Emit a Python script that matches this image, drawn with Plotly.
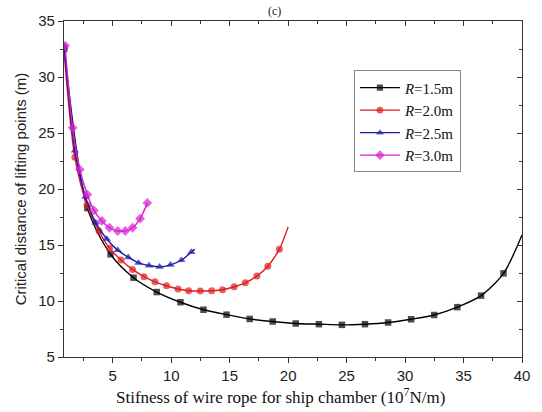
import plotly.graph_objects as go

# ---- data ----
black_x = [0.85, 2.83, 4.81, 6.78, 8.76, 10.79, 12.76, 14.73, 16.71, 18.68, 20.65,
           22.63, 24.60, 26.57, 28.55, 30.52, 32.49, 34.47, 36.5, 38.42, 40.0]
black_y = [32.5, 18.29, 14.17, 12.08, 10.8, 9.89, 9.22, 8.78, 8.40, 8.17, 7.99,
           7.93, 7.87, 7.93, 8.08, 8.37, 8.75, 9.45, 10.48, 12.47, 15.9]

red_x = [0.8, 1.76, 2.8, 3.82, 4.72, 5.71, 6.69, 7.68, 8.61, 9.6, 10.58, 11.49,
         12.48, 13.46, 14.39, 15.38, 16.34, 17.33, 18.26, 19.25, 20.0]
red_y = [32.7, 22.83, 18.58, 16.25, 14.72, 13.67, 12.82, 12.17, 11.71, 11.36, 11.07,
         10.92, 10.89, 10.92, 11.0, 11.27, 11.62, 12.23, 13.11, 14.63, 16.62]

blue_x = [0.85, 1.76, 2.67, 3.54, 4.49, 5.42, 6.33, 7.2, 8.1, 9.01, 9.94, 10.87, 11.72, 12.0]
blue_y = [32.7, 23.42, 19.3, 17.0, 15.54, 14.54, 13.9, 13.4, 13.17, 13.05, 13.23, 13.64, 14.37, 14.63]

mag_x = [0.92, 1.57, 2.18, 2.83, 3.39, 4.07, 4.72, 5.42, 6.07, 6.69, 7.34, 7.96]
mag_y = [32.81, 25.46, 21.74, 19.5, 18.09, 17.15, 16.54, 16.25, 16.25, 16.54, 17.35, 18.76]

series_names = ["<i>R</i>=1.5m", "<i>R</i>=2.0m", "<i>R</i>=2.5m", "<i>R</i>=3.0m"]

x_ticks = [5, 10, 15, 20, 25, 30, 35, 40]
y_ticks = [5, 10, 15, 20, 25, 30, 35]
x_range = [0.83, 40]
y_range = [5, 35]

x_title = "Stifness of wire rope for ship chamber (10<sup>7</sup>N/m)"
y_title = "Critical distance of lifting points (m)"

# ---- styling ----
colors = ["#000000", "#dd1c1c", "#1a1aa8", "#d61ed6"]
symbols = ["square", "circle", "triangle-up", "diamond"]
msizes = [6.5, 7, 7.5, 7.5]

def sizes(n, s, last_marker=False):
    arr = [s] * n
    if not last_marker:
        arr[-1] = 0
    return arr

fig = go.Figure()
data = [(black_x, black_y, False), (red_x, red_y, False), (blue_x, blue_y, False), (mag_x, mag_y, True)]
for i, (xs, ys, lm) in enumerate(data):
    fig.add_trace(go.Scatter(
        x=xs, y=ys, mode="lines+markers", name=series_names[i],
        line=dict(color=colors[i], width=1.4, shape="spline", smoothing=0.8),
        marker=dict(color=colors[i], symbol=symbols[i], size=sizes(len(xs), msizes[i], lm),
                    line=dict(width=0)),
    ))

# invisible trace for the mirrored (top/right) axes
fig.add_trace(go.Scatter(x=[x_range[0]], y=[y_range[0]], xaxis="x2", yaxis="y2",
                         mode="markers", marker=dict(opacity=0), showlegend=False,
                         hoverinfo="skip"))

axis_col = "#333333"
tick_font = dict(family="Liberation Sans, Arial", size=15, color="#222")

fig.update_layout(
    width=542, height=412,
    margin=dict(l=64, r=15, t=16, b=55),
    paper_bgcolor="white", plot_bgcolor="white",
    showlegend=True,
    legend=dict(x=0.633, y=0.853, xanchor="left", yanchor="top",
                bgcolor="white", bordercolor="#888888", borderwidth=1,
                font=dict(family="Liberation Serif, Times New Roman", size=15, color="#111"),
                tracegroupgap=0, itemwidth=40),
    xaxis=dict(range=x_range, tickvals=x_ticks, showline=True, linecolor=axis_col, linewidth=1.2,
               ticks="outside", ticklen=5, tickcolor=axis_col, tickwidth=1.2,
               minor=dict(ticks="outside", ticklen=3, dtick=2.5, tick0=0, tickcolor=axis_col),
               showgrid=False, zeroline=False, tickfont=tick_font),
    yaxis=dict(range=y_range, tickvals=y_ticks, showline=True, linecolor=axis_col, linewidth=1.2,
               ticks="outside", ticklen=5, tickcolor=axis_col, tickwidth=1.2,
               minor=dict(ticks="outside", ticklen=3, dtick=2.5, tick0=0, tickcolor=axis_col),
               showgrid=False, zeroline=False, tickfont=tick_font,
               title=dict(text=y_title,
                          font=dict(family="Liberation Sans, Arial", size=15, color="#222"),
                          standoff=7)),
    xaxis2=dict(range=x_range, overlaying="x", side="top", tickvals=x_ticks, showticklabels=False,
                showline=True, linecolor=axis_col, linewidth=1.2, ticks="inside", ticklen=5,
                tickcolor=axis_col, tickwidth=1.2,
                minor=dict(ticks="inside", ticklen=3, dtick=2.5, tick0=0, tickcolor=axis_col),
                showgrid=False, zeroline=False),
    yaxis2=dict(range=y_range, overlaying="y", side="right", tickvals=y_ticks, showticklabels=False,
                showline=True, linecolor=axis_col, linewidth=1.2, ticks="inside", ticklen=5,
                tickcolor=axis_col, tickwidth=1.2,
                minor=dict(ticks="inside", ticklen=3, dtick=2.5, tick0=0, tickcolor=axis_col),
                showgrid=False, zeroline=False),
    annotations=[
        dict(text="(c)", xref="paper", yref="paper", x=0.46, y=1.0,
             xanchor="center", yanchor="bottom", yshift=1, showarrow=False,
             font=dict(family="Liberation Serif, Times New Roman", size=12, color="#222")),
        dict(text=x_title, xref="paper", yref="paper", x=0.473, y=-0.116,
             xanchor="center", yanchor="middle", showarrow=False,
             font=dict(family="Liberation Serif, Times New Roman", size=17, color="#111")),
    ],
)

fig.write_html("out.html", config={"displayModeBar": False},
               post_script="document.body.style.margin='0';")
